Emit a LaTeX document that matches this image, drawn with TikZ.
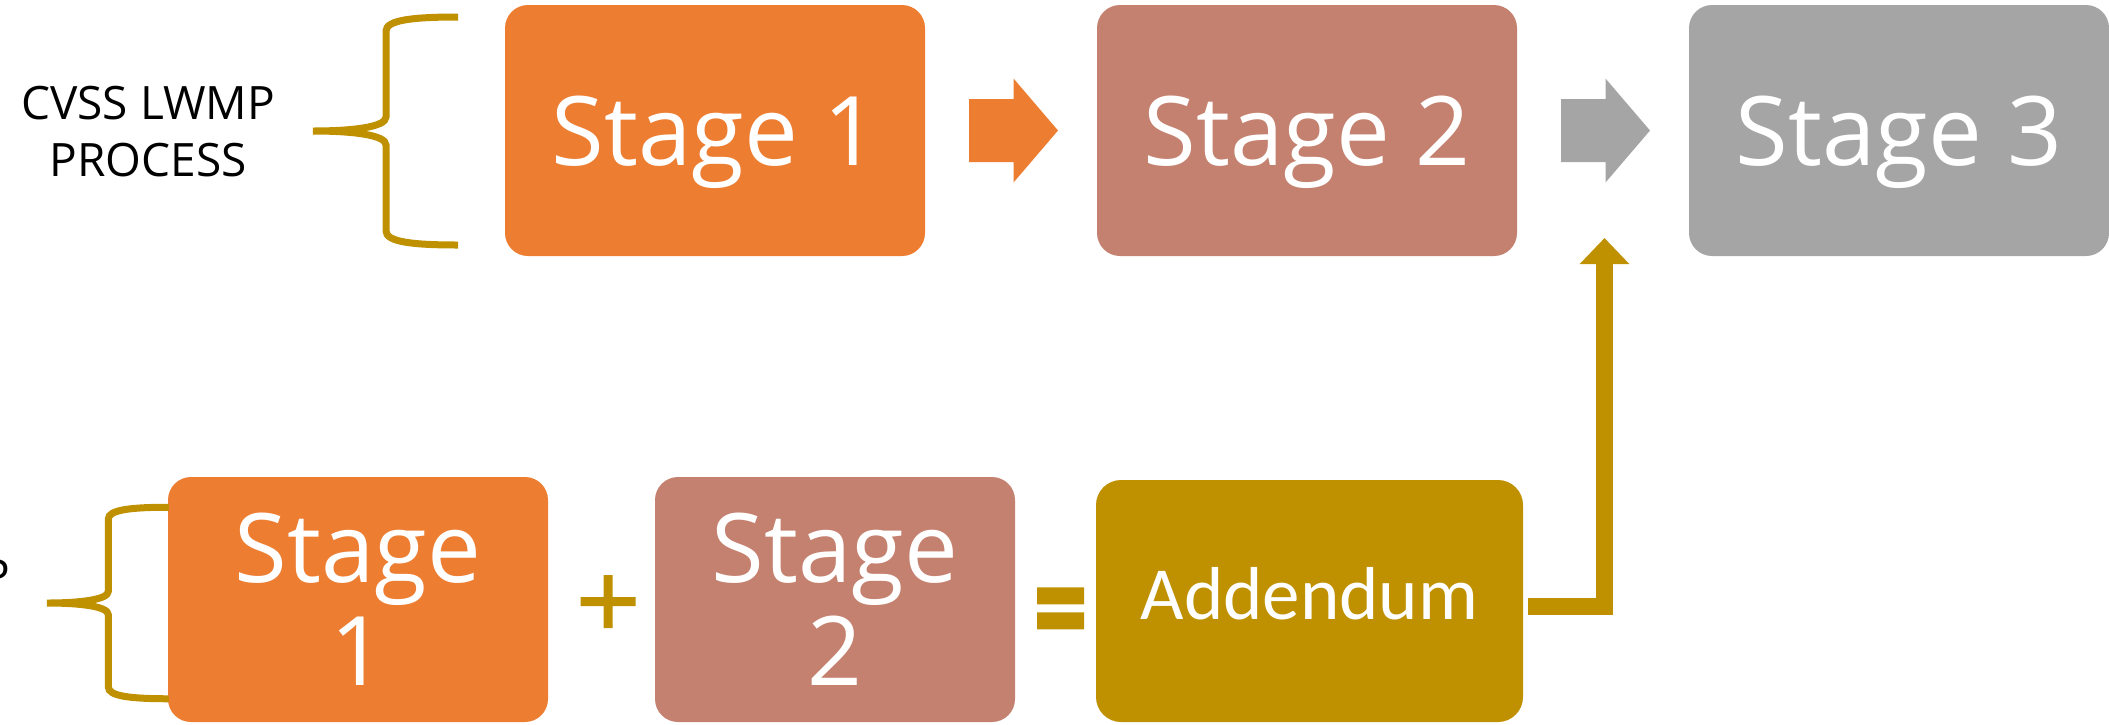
\documentclass[tikz,border=0pt]{standalone}
\usepackage{fontspec}
\setmainfont{Open Sans}
\newfontfamily\addfont{Carlito}
\usetikzlibrary{positioning,calc,arrows.meta}
\definecolor{stageorange}{HTML}{ED7D31}
\definecolor{stagerose}{HTML}{C5816F}
\definecolor{stagegray}{HTML}{A5A5A5}
\definecolor{addgold}{HTML}{BF9000}

\tikzset{
  curly/.pic={\draw[addgold,line width=3.5pt] (145,-114) .. controls (100,-114) and (73,-111) .. (73,-100) -- (73,-14) .. controls (73,-4) and (40,0) .. (0,0) .. controls (40,0) and (73,4) .. (73,14) -- (73,100) .. controls (73,111) and (100,114) .. (145,114);},
  blockarrow/.pic={\fill (-44.5,-31.5) -- (0,-31.5) -- (0,-52) -- (44.5,0) -- (0,52) -- (0,31.5) -- (-44.5,31.5) -- cycle;}
}

\begin{document}
\begin{tikzpicture}[x=0.5pt,y=-0.5pt,node distance=296pt,on grid,
    stagebox/.style={rectangle,rounded corners=11.5pt,inner sep=0pt,text=white,align=center,
      font=\fontsize{48}{51.5}\selectfont},
    topbox/.style={stagebox,minimum width=210pt,minimum height=125.5pt,text depth=0pt},
    lowbox/.style={stagebox,minimum height=122.5pt},
    lwmp/.style={align=center,font=\fontsize{23}{28.5}\selectfont}]
  \useasboundingbox (0,0) rectangle (2109,724);
  \clip (0,0) rectangle (2109,724);

  \node[lwmp]                    (t0) at (148,131.7)  {CVSS LWMP\\PROCESS};
  \node[topbox,fill=stageorange] (s1) at (715,130.5)  {Stage 1};
  \node[topbox,fill=stagerose]   (s2) [right =of s1]  {Stage 2};
  \node[topbox,fill=stagegray]   (s3) [right =of s2]  {Stage 3};

  \node[lwmp]                    (l0) at (-117,605) {CVSS LWMP\\PROCESS};
  \node[lowbox,fill=stageorange,minimum width=190pt] (b1) at (358,599.5) {Stage\\1};
  \node[lowbox,fill=stagerose,minimum width=180pt]   (b2) [right =238.5pt of b1] {Stage\\2};
  \node[rectangle,rounded corners=12.5pt,fill=addgold,text=white,minimum width=213.5pt,minimum height=121pt,
    text depth=8pt,font=\addfont\fontsize{37.5}{40}\selectfont]  (ad) [right =237.25pt of b2,yshift=-0.75pt] {Addendum};

  \pic at (313,131) {curly};
  \pic[scale=0.84] at (47,603) {curly};

  % arrows between the stages
  \pic[fill=stageorange] at ($(s1.east)!0.5!(s2.west)+(2.5,0)$) {blockarrow};
  \pic[fill=stagegray]   at ($(s2.east)!0.5!(s3.west)+(2.5,0)$) {blockarrow};

  % plus and equals
  \coordinate (plus) at ($(b1.east)!0.5!(b2.west)+(6.5,2)$);
  \fill[addgold] ($(plus)+(-27.5,-4.5)$) rectangle ($(plus)+(27.5,4.5)$)
                 ($(plus)+(-4.5,-26.5)$) rectangle ($(plus)+(4.5,26.5)$);
  \coordinate (equal) at ($(b2.east)!0.5!(ad.west)+(5,8)$);
  \fill[addgold] ($(equal)+(-23.5,-21)$) rectangle ($(equal)+(23.5,-4)$)
                 ($(equal)+(-23.5,4)$) rectangle ($(equal)+(23.5,21)$);

  \tikzset{upline/.style={addgold,line width=8.5pt,-{Triangle[width=24pt,length=13pt]}}}
  \coordinate (up) at (1604.5,238);
  \draw[upline] ([xshift=2.5pt,yshift=-2.75pt]ad.east) -| (up);
\end{tikzpicture}
\end{document}
